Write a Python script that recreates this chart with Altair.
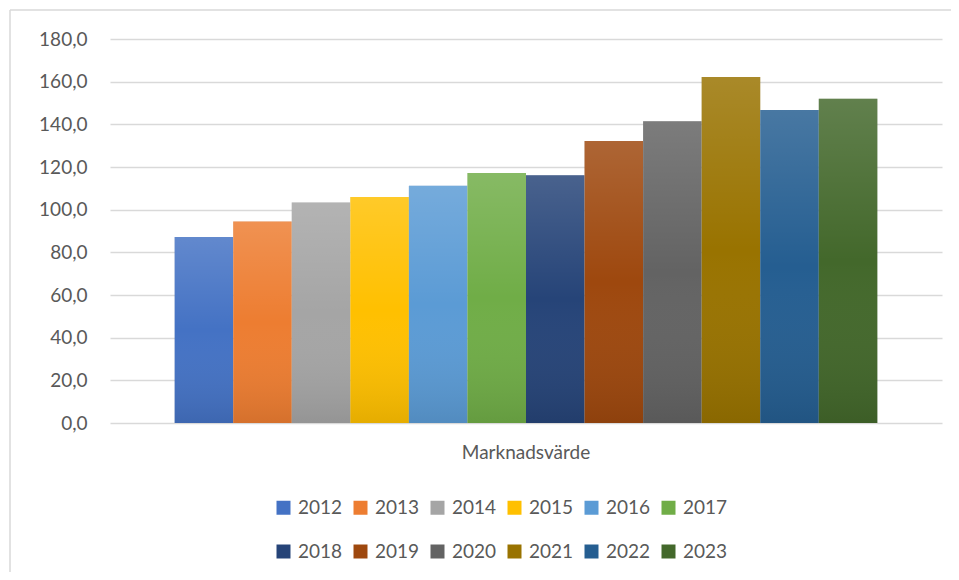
import altair as alt
import pandas as pd

category = ["Marknadsvärde"]
years = ["2012", "2013", "2014", "2015", "2016", "2017",
         "2018", "2019", "2020", "2021", "2022", "2023"]
values = [87.2, 94.5, 103.4, 105.9, 111.2, 117.2,
          116.1, 132.2, 141.4, 162.2, 146.7, 152.0]
colors = ["#4472C4", "#ED7D31", "#A5A5A5", "#FFC000", "#5B9BD5", "#70AD47",
          "#264478", "#9E480E", "#636363", "#997300", "#255E91", "#43682B"]
y_ticks = [0, 20, 40, 60, 80, 100, 120, 140, 160, 180]

df = pd.DataFrame({"kategori": category * len(years), "year": years, "value": values})

FONT = "Lato"
TXT = "#595959"

x_enc = alt.X("kategori:N", title=None,
              scale=alt.Scale(paddingInner=0, paddingOuter=0.092),
              axis=alt.Axis(labelAngle=0, labelFontSize=19, labelColor=TXT, labelFont=FONT,
                            labelPadding=20, domain=False, ticks=False, tickSize=0, grid=False))
xo_enc = alt.XOffset("year:N", sort=years, scale=alt.Scale(paddingInner=0, paddingOuter=0))
y_enc = alt.Y("value:Q", title=None,
              scale=alt.Scale(domain=[0, 180], nice=False),
              axis=alt.Axis(values=y_ticks, labelFontSize=19, labelColor=TXT, labelFont=FONT,
                            labelPadding=23, domain=False, ticks=False, tickSize=0,
                            gridColor="#D9D9D9", gridWidth=1.3,
                            labelExpr="replace(format(datum.value, '.1f'), '.', ',')"))

base = alt.Chart(df)

shadow = base.mark_bar(color="#000000", opacity=0.10, xOffset=3).encode(
    x=x_enc, xOffset=xo_enc, y=y_enc)

bars = base.mark_bar(opacity=1).encode(
    x=x_enc, xOffset=xo_enc, y=y_enc,
    color=alt.Color("year:N", sort=years,
                    scale=alt.Scale(domain=years, range=colors),
                    legend=alt.Legend(orient="none", legendX=164, legendY=459,
                                      direction="horizontal", columns=6, title=None,
                                      symbolType="square", symbolSize=196,
                                      symbolStrokeWidth=0, symbolOpacity=1,
                                      labelFontSize=19, labelColor=TXT, labelFont=FONT,
                                      labelOffset=5, columnPadding=8, rowPadding=24)))

shine = base.mark_bar(
    fill={"gradient": "linear", "x1": 0, "y1": 0, "x2": 0, "y2": 1,
          "stops": [{"offset": 0, "color": "rgba(255,255,255,0.16)"},
                    {"offset": 0.5, "color": "rgba(255,255,255,0.0)"},
                    {"offset": 1, "color": "rgba(0,0,0,0.10)"}]}
).encode(x=x_enc, xOffset=xo_enc, y=y_enc)

frame_df = pd.DataFrame({"a": [0]})
top_border = alt.Chart(frame_df).mark_rule(color="#D9D9D9", strokeWidth=1.5).encode(
    x=alt.value(-100), x2=alt.value(860), y=alt.value(-29))
left_border = alt.Chart(frame_df).mark_rule(color="#D9D9D9", strokeWidth=1.5).encode(
    x=alt.value(-100), y=alt.value(-29), y2=alt.value(545))

chart = alt.layer(top_border, left_border, shadow, bars, shine).properties(
    width=832, height=384,
    autosize=alt.AutoSizeParams(type="none"),
    padding={"left": 102, "top": 31, "right": 9, "bottom": 149},
    background="white",
).configure_view(stroke=None)

chart.save("out.html", embed_options={"renderer": "svg", "actions": False})
